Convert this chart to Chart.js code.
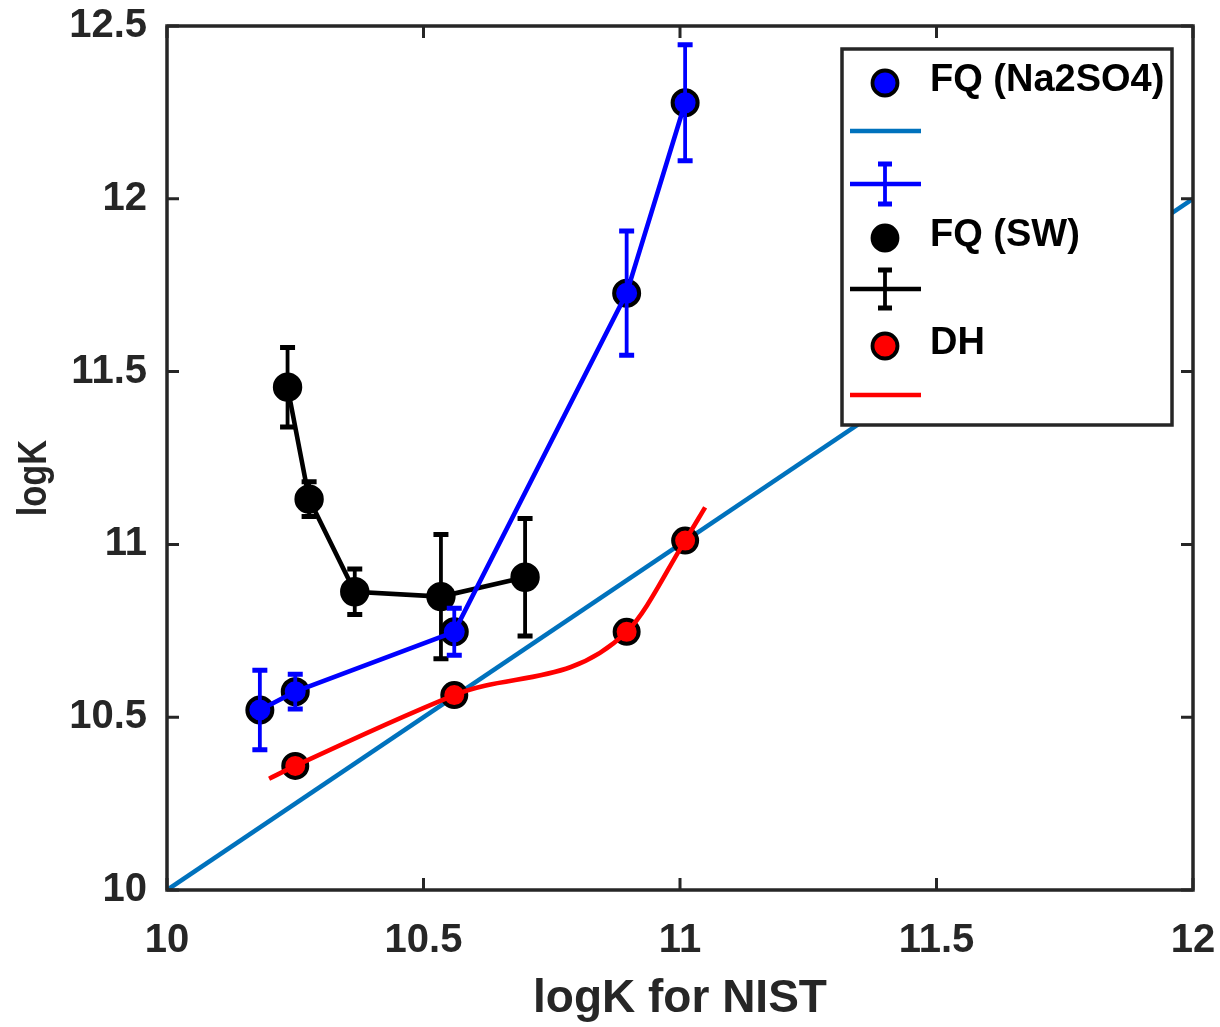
<!DOCTYPE html>
<html>
<head>
<meta charset="utf-8">
<script src="https://cdn.jsdelivr.net/npm/chart.js@4.4.1/dist/chart.umd.min.js"></script>
<style>
  html, body { margin: 0; padding: 0; background: #ffffff; }
  canvas { display: block; }
</style>
</head>
<body>
<canvas id="chart" width="1220" height="1027"></canvas>
<script>
// NIST reference logK values (x) shared by the Na2SO4 and DH series
const nistLogK = [10.181, 10.250, 10.560, 10.896, 11.010];
// FQ model in Na2SO4 medium, with error half-widths
const fqNa2SO4 = [10.521, 10.574, 10.747, 11.727, 12.278];
const fqNa2SO4Err = [0.115, 0.050, 0.068, 0.180, 0.168];
// FQ model in seawater: its own NIST abscissae
const nistLogKSW = [10.235, 10.277, 10.366, 10.534, 10.698];
const fqSW = [11.455, 11.131, 10.863, 10.849, 10.905];
const fqSWErr = [0.115, 0.050, 0.066, 0.180, 0.170];
// Debye-Hückel points (at nistLogK[1..4]) and the smooth fitted curve through them
const nistLogKDH = [10.250, 10.560, 10.896, 11.010];
const dhLogK = [10.359, 10.564, 10.747, 11.011];
const dhCurveX = [10.199, 10.250, 10.560, 10.896, 11.010, 11.049];
const dhCurveY = [10.322, 10.359, 10.564, 10.747, 11.011, 11.107];
// 1:1 line
const identityX = [10, 12];
const identityY = [10, 12];
// axis ticks and their labels
const xTicks = [10, 10.5, 11, 11.5, 12];
const xTickLabels = ['10', '10.5', '11', '11.5', '12'];
const yTicks = [10, 10.5, 11, 11.5, 12, 12.5];
const yTickLabels = ['10', '10.5', '11', '11.5', '12', '12.5'];

const xTitle = 'logK for NIST';
const yTitle = 'logK';
const legendLabels = ['FQ (Na2SO4)', 'FQ (SW)', 'DH'];

const AXIS_COLOR = '#262626';
const BLUE = '#0000ff';
const REF_BLUE = '#0072bd';
const RED = '#ff0000';
const BLACK = '#000000';
const LINE_W = 4.6;
const FONT = '"Liberation Sans", Arial, sans-serif';

const pts = (xs, ys) => xs.map((x, i) => ({ x, y: ys[i] }));

// vertical error bars with caps, drawn together with their series
const errorBars = {
  id: 'errorBars',
  afterDatasetDraw(chart, args) {
    const ds = chart.data.datasets[args.index];
    if (!ds.errors) return;
    const xs = chart.scales.x, ys = chart.scales.y;
    const ctx = chart.ctx;
    ctx.save();
    ctx.strokeStyle = ds.borderColor;
    ds.data.forEach((p, i) => {
      const px = xs.getPixelForValue(p.x);
      const top = ys.getPixelForValue(p.y + ds.errors[i]);
      const bot = ys.getPixelForValue(p.y - ds.errors[i]);
      ctx.lineWidth = 3.8;
      ctx.beginPath();
      ctx.moveTo(px, top); ctx.lineTo(px, bot);
      ctx.stroke();
      ctx.lineWidth = 5;
      ctx.beginPath();
      ctx.moveTo(px - 7.5, top); ctx.lineTo(px + 7.5, top);
      ctx.moveTo(px - 7.5, bot); ctx.lineTo(px + 7.5, bot);
      ctx.stroke();
    });
    ctx.restore();
  }
};

// box around the axes with inward tick marks on all four sides, plus the y title
const axesBox = {
  id: 'axesBox',
  afterDatasetsDraw(chart) {
    const { ctx, chartArea: a } = chart;
    const xs = chart.scales.x, ys = chart.scales.y;
    const L = 12;
    ctx.save();
    ctx.strokeStyle = AXIS_COLOR;
    ctx.lineWidth = 3;
    ctx.beginPath();
    xTicks.forEach(v => {
      const px = xs.getPixelForValue(v);
      ctx.moveTo(px, a.bottom); ctx.lineTo(px, a.bottom - L);
      ctx.moveTo(px, a.top); ctx.lineTo(px, a.top + L);
    });
    yTicks.forEach(v => {
      const py = ys.getPixelForValue(v);
      ctx.moveTo(a.left, py); ctx.lineTo(a.left + L, py);
      ctx.moveTo(a.right, py); ctx.lineTo(a.right - L, py);
    });
    ctx.stroke();
    ctx.lineWidth = 3.5;
    ctx.strokeRect(a.left, a.top, a.right - a.left, a.bottom - a.top);

    // rotated, slightly condensed y-axis title, a little below the axis middle
    ctx.translate(35, (a.top + a.bottom) / 2 + 20);
    ctx.rotate(-Math.PI / 2);
    ctx.scale(0.86, 1);
    ctx.fillStyle = AXIS_COLOR;
    ctx.font = 'bold 40px ' + FONT;
    ctx.textAlign = 'center';
    ctx.textBaseline = 'middle';
    ctx.fillText(yTitle, 0, 0);
    ctx.restore();
  }
};

// legend box in the upper right, one row per plotted object
const legendBox = {
  id: 'legendBox',
  afterDraw(chart) {
    const ctx = chart.ctx;
    const box = { x: 842, y: 49, w: 330, h: 376 };
    ctx.save();
    ctx.fillStyle = '#ffffff';
    ctx.fillRect(box.x, box.y, box.w, box.h);
    ctx.strokeStyle = AXIS_COLOR;
    ctx.lineWidth = 3.5;
    ctx.strokeRect(box.x, box.y, box.w, box.h);

    const mx = 885, x0 = 850, x1 = 921, tx = 930;
    const marker = (y, fill, edge) => {
      ctx.beginPath();
      ctx.arc(mx, y, 12.5, 0, Math.PI * 2);
      ctx.fillStyle = fill; ctx.fill();
      ctx.lineWidth = 3.8; ctx.strokeStyle = edge; ctx.stroke();
    };
    const hline = (y, color) => {
      ctx.beginPath();
      ctx.moveTo(x0, y); ctx.lineTo(x1, y);
      ctx.lineWidth = LINE_W; ctx.strokeStyle = color; ctx.stroke();
    };
    const ebar = (y, color, half) => {
      hline(y, color);
      ctx.beginPath();
      ctx.moveTo(mx, y - half); ctx.lineTo(mx, y + half);
      ctx.lineWidth = 3.8; ctx.stroke();
      ctx.beginPath();
      ctx.moveTo(mx - 7, y - half); ctx.lineTo(mx + 7, y - half);
      ctx.moveTo(mx - 7, y + half); ctx.lineTo(mx + 7, y + half);
      ctx.lineWidth = 5; ctx.stroke();
    };
    const label = (y, text) => {
      ctx.fillStyle = '#000000';
      ctx.font = 'bold 38px ' + FONT;
      ctx.textAlign = 'left';
      ctx.textBaseline = 'middle';
      ctx.fillText(text, tx, y);
    };

    marker(83, BLUE, BLACK); label(81, legendLabels[0]);
    hline(131, REF_BLUE);
    ebar(184, BLUE, 20);
    marker(238, BLACK, BLACK); label(236, legendLabels[1]);
    ebar(289, BLACK, 19);
    marker(346, RED, BLACK); label(344, legendLabels[2]);
    hline(395, RED);
    ctx.restore();
  }
};

const tickFont = { family: FONT, size: 40, weight: 'bold' };

new Chart(document.getElementById('chart'), {
  type: 'scatter',
  data: {
    datasets: [
      {
        label: 'DH fit',
        data: pts(dhCurveX, dhCurveY),
        showLine: true, cubicInterpolationMode: 'monotone',
        borderColor: RED, borderWidth: LINE_W, pointRadius: 0, order: 1
      },
      {
        label: 'DH',
        data: pts(nistLogKDH, dhLogK),
        showLine: false, pointRadius: 12, pointBorderWidth: 4,
        backgroundColor: RED, borderColor: BLACK, order: 2
      },
      {
        label: 'FQ (Na2SO4) error',
        data: pts(nistLogK, fqNa2SO4), errors: fqNa2SO4Err,
        showLine: true, borderColor: BLUE, borderWidth: LINE_W, pointRadius: 0, order: 3
      },
      {
        label: 'FQ (Na2SO4)',
        data: pts(nistLogK, fqNa2SO4),
        showLine: false, pointRadius: 12.5, pointBorderWidth: 4,
        backgroundColor: BLUE, borderColor: BLACK, order: 4
      },
      {
        label: 'FQ (SW) error',
        data: pts(nistLogKSW, fqSW), errors: fqSWErr,
        showLine: true, borderColor: BLACK, borderWidth: LINE_W, pointRadius: 0, order: 5
      },
      {
        label: 'FQ (SW)',
        data: pts(nistLogKSW, fqSW),
        showLine: false, pointRadius: 13.2, pointBorderWidth: 3,
        backgroundColor: BLACK, borderColor: BLACK, order: 6
      },
      {
        label: '1:1',
        data: pts(identityX, identityY),
        showLine: true, borderColor: REF_BLUE, borderWidth: LINE_W, pointRadius: 0, order: 7
      }
    ]
  },
  options: {
    responsive: false,
    animation: false,
    devicePixelRatio: 1,
    events: [],
    layout: { padding: { top: 26, right: 27, left: 0, bottom: 0 } },
    plugins: { legend: { display: false }, tooltip: { enabled: false } },
    scales: {
      x: {
        type: 'linear', position: 'bottom', min: 10, max: 12,
        afterBuildTicks: s => { s.ticks = xTicks.map(v => ({ value: v })); },
        afterFit: s => { s.height = 137; s.paddingLeft = 0; s.paddingRight = 0; },
        grid: { display: false, drawTicks: false },
        border: { display: false },
        ticks: {
          color: AXIS_COLOR, font: tickFont, padding: 27, maxRotation: 0, autoSkip: false,
          callback: (v, i) => xTickLabels[i]
        },
        title: {
          display: true, text: xTitle, color: AXIS_COLOR,
          font: { family: FONT, size: 46, weight: 'bold' },
          padding: { top: 0, bottom: 0 }
        }
      },
      y: {
        type: 'linear', position: 'left', min: 10, max: 12.5,
        afterBuildTicks: s => { s.ticks = yTicks.map(v => ({ value: v })); },
        afterFit: s => { s.width = 167; s.paddingTop = 0; s.paddingBottom = 0; },
        grid: { display: false, drawTicks: false },
        border: { display: false },
        ticks: {
          color: AXIS_COLOR, font: tickFont, padding: 20, autoSkip: false,
          callback: (v, i) => yTickLabels[i]
        },
        title: { display: false }
      }
    }
  },
  plugins: [errorBars, axesBox, legendBox]
});
</script>
</body>
</html>
